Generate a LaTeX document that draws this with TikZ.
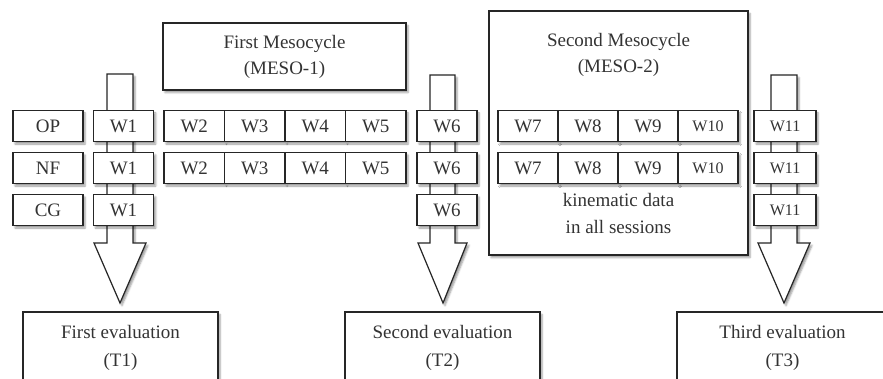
\documentclass[tikz,border=0pt]{standalone}
\usepackage{fontspec}
\setmainfont{Liberation Serif}
\usetikzlibrary{shadows.blur}

\begin{document}
\begin{tikzpicture}[x=1pt, y=-1pt, line join=miter,
  box/.style={draw=black!85, line width=1.2pt, fill=white, text=black!80,
    blur shadow={shadow xshift=2pt, shadow yshift=-2.5pt, shadow blur steps=4, shadow opacity=40},
    font=\fontsize{19}{26}\selectfont, align=center, inner sep=0pt},
  cell/.style={box, minimum height=31pt, minimum width=60.5pt},
  smallw/.style={font=\fontsize{16}{20}\selectfont},
  barrow/.style={draw=black!85, line width=1.2pt, fill=white,
    blur shadow={shadow xshift=2pt, shadow yshift=-2.5pt, shadow blur steps=4, shadow opacity=40}},
  plain/.style={text=black!80, font=\fontsize{19}{27}\selectfont, align=center}]

\useasboundingbox (0,0) rectangle (883,379);
\clip (0,0) rectangle (883,379);

% block arrows
\draw[barrow] (107,74) -- (133,74) -- (133,243) -- (146,243) -- (120,303) -- (94,243) -- (107,243) -- cycle;
\draw[barrow] (430,75) -- (455,75) -- (455,243) -- (467,243) -- (443,303) -- (418,243) -- (430,243) -- cycle;
\draw[barrow] (771,75) -- (797,75) -- (797,243) -- (810,243) -- (784,303) -- (758,243) -- (771,243) -- cycle;

% mesocycles
\node[box, minimum width=243pt, minimum height=67pt] (meso1) at (284.5,56.5) {First Mesocycle\\(MESO-1)};
\node[box, minimum width=259pt, minimum height=244pt] (meso2) at (618.5,133) {};
\node[plain, font=\fontsize{19}{26}\selectfont] (meso2-t) at (618.5,55) {Second Mesocycle\\(MESO-2)};
\node[plain] (kin) at (618.5,213.5) {kinematic data\\in all sessions};

% groups
\node[cell, minimum width=70pt] (op) at (48,126) {OP};
\node[cell, minimum width=70pt] (nf) at (48,168) {NF};
\node[cell, minimum width=70pt] (cg) at (48,210) {CG};

% weeks
\foreach \g/\y in {op/126, nf/168, cg/210} {
  \node[cell] (\g-w1) at (123.5,\y) {W1};
  \node[cell, minimum width=60pt] (\g-w6) at (447,\y) {W6};
  \node[cell, minimum width=62pt, smallw] (\g-w11) at (785,\y) {W11};
}
\foreach \g/\y in {op/126, nf/168} {
  \foreach \n [count=\i] in {2,...,5}
    \node[cell] (\g-w\n) at ({164+60.5*(\i-0.5)},\y) {W\n};
  \foreach \n [count=\i] in {7,...,9}
    \node[cell, minimum width=60pt] (\g-w\n) at ({498+60*(\i-0.5)},\y) {W\n};
  \node[cell, minimum width=60pt, smallw] (\g-w10) at (708,\y) {W10};
}

% evaluations
\node[box, minimum width=195pt, minimum height=72pt, font=\fontsize{19}{28}\selectfont] (t1) at (120.5,348) {First evaluation\\(T1)};
\node[box, minimum width=195pt, minimum height=72pt, font=\fontsize{19}{28}\selectfont] (t2) at (442.5,348) {Second evaluation\\(T2)};
\node[box, minimum width=211pt, minimum height=72pt, font=\fontsize{19}{28}\selectfont] (t3) at (782.5,348) {Third evaluation\\(T3)};

\end{tikzpicture}
\end{document}
